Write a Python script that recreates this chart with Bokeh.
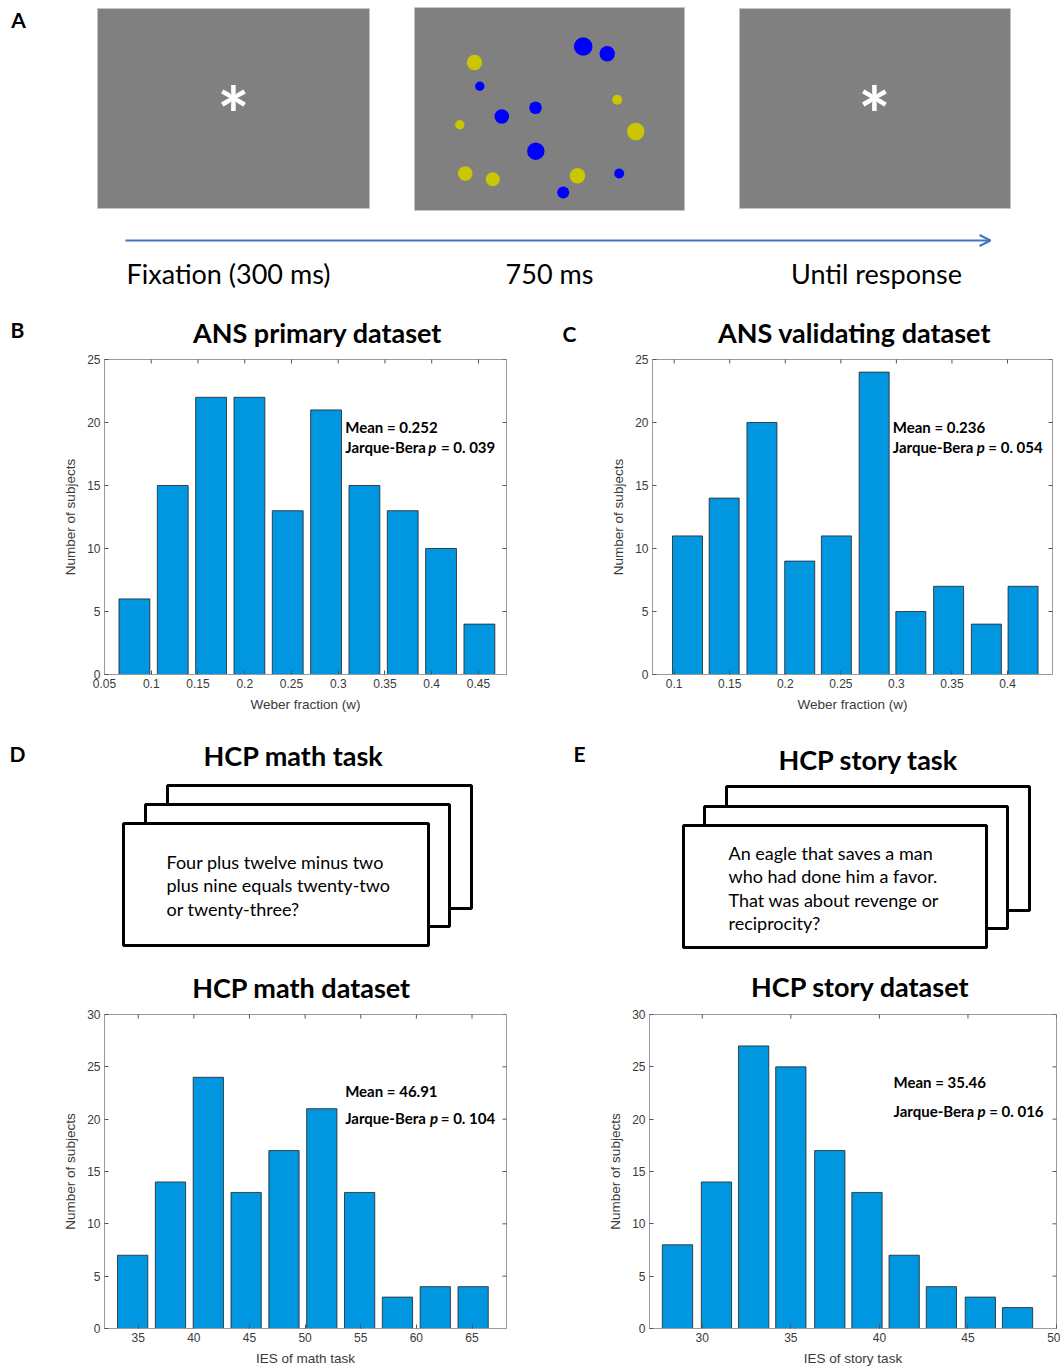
import math
from bokeh.plotting import figure
from bokeh.layouts import column, row
from bokeh.models import Range1d, FixedTicker, LinearAxis, Arrow, OpenHead
from bokeh.core.properties import value
from bokeh.embed import file_html
from bokeh.resources import INLINE

# ------------------------------------------------------------------ data
# Panel B: ANS primary dataset (Weber fraction histogram)
b_centers = [0.082, 0.123, 0.164, 0.205, 0.246, 0.287, 0.328, 0.369, 0.410, 0.451]
b_counts = [6, 15, 22, 22, 13, 21, 15, 13, 10, 4]
b_xticks = [0.05, 0.1, 0.15, 0.2, 0.25, 0.3, 0.35, 0.4, 0.45]
b_xlabels = ["0.05", "0.1", "0.15", "0.2", "0.25", "0.3", "0.35", "0.4", "0.45"]

# Panel C: ANS validating dataset
c_centers = [0.112, 0.145, 0.179, 0.213, 0.246, 0.280, 0.313, 0.347, 0.381, 0.414]
c_counts = [11, 14, 20, 9, 11, 24, 5, 7, 4, 7]
c_xticks = [0.1, 0.15, 0.2, 0.25, 0.3, 0.35, 0.4]
c_xlabels = ["0.1", "0.15", "0.2", "0.25", "0.3", "0.35", "0.4"]

# Panel D: HCP math dataset (IES)
d_centers = [34.5, 37.9, 41.3, 44.7, 48.1, 51.5, 54.9, 58.3, 61.7, 65.1]
d_counts = [7, 14, 24, 13, 17, 21, 13, 3, 4, 4]
d_xticks = [35, 40, 45, 50, 55, 60, 65]
d_xlabels = ["35", "40", "45", "50", "55", "60", "65"]

# Panel E: HCP story dataset (IES)
e_centers = [28.6, 30.8, 32.9, 35.0, 37.2, 39.3, 41.4, 43.5, 45.7, 47.8]
e_counts = [8, 14, 27, 25, 17, 13, 7, 4, 3, 2]
e_xticks = [30, 35, 40, 45, 50]
e_xlabels = ["30", "35", "40", "45", "50"]

yticks_25 = [0, 5, 10, 15, 20, 25]
yticks_30 = [0, 5, 10, 15, 20, 25, 30]

stats_B = ("Mean = 0.252", "= 0. 039")
stats_C = ("Mean = 0.236", "= 0. 054")
stats_D = ("Mean = 46.91", "= 0. 104")
stats_E = ("Mean = 35.46", "= 0. 016")

# Panel A stimulus illustration (dot array)
blue_x = [582.7, 606.7, 479.3, 535.0, 501.3, 535.3, 618.7, 562.7]
blue_y = [46.0, 53.3, 85.7, 107.3, 116.0, 150.7, 173.0, 192.0]
blue_r = [9.3, 7.7, 4.7, 6.3, 7.3, 8.7, 5.0, 6.0]
yellow_x = [474.0, 616.7, 459.3, 635.3, 464.7, 492.3, 577.0]
yellow_y = [62.0, 99.3, 124.3, 131.0, 173.0, 178.7, 175.3]
yellow_r = [7.7, 5.0, 4.7, 8.7, 7.3, 7.0, 7.7]

screen_labels = ["Fixation (300 ms)", "750 ms", "Until response"]
math_lines = ["Four plus twelve minus two", "plus nine equals twenty-two", "or twenty-three?"]
story_lines = ["An eagle that saves a man", "who had done him a favor.",
               "That was about revenge or", "reciprocity?"]

# ------------------------------------------------------------------ style
FONT = "Lato"
AXFONT = "Liberation Sans"
BAR = "#0096E0"
AXC = "#9a9a9a"
TXT = "#3a3a3a"
TITLE_SIZE = "27px"


def canvas(w, h, x0, y0):
    p = figure(width=w, height=h, x_range=Range1d(x0, x0 + w), y_range=Range1d(y0 + h, y0),
               toolbar_location=None, output_backend="svg", title=None,
               x_axis_location=None, y_axis_location=None, min_border=0)
    p.grid.visible = False
    p.outline_line_color = None
    p.background_fill_color = "white"
    p.border_fill_color = "white"
    return p


def ttext(p, x, y, t, size, style="normal", align="center", color="black", baseline="middle"):
    p.text(x=[x], y=[y], text=[t], text_font=value(FONT), text_font_size=size,
           text_font_style=style, text_align=align, text_baseline=baseline, text_color=color)


def style_axis(ax):
    ax.axis_line_color = AXC
    ax.major_tick_line_color = "#555555"
    ax.major_tick_in = 4
    ax.major_tick_out = 0
    ax.minor_tick_in = 0
    ax.minor_tick_out = 0
    ax.major_label_text_font = AXFONT
    ax.major_label_text_color = TXT
    ax.major_label_text_font_size = "12px"
    ax.major_label_standoff = 4
    ax.axis_label_text_font = AXFONT
    ax.axis_label_text_color = TXT
    ax.axis_label_text_font_style = "normal"
    ax.axis_label_text_font_size = "13.5px"
    ax.axis_label_standoff = 6


def hist(w, h, xr, ymax, centers, counts, bw, xticks, xlabels, yticks, xlabel,
         borders, stats, ax_x, mean_y, jb_y, p_off, v_off):
    l, r, t, b = borders
    p = figure(width=w, height=h, x_range=Range1d(*xr), y_range=Range1d(0, ymax),
               toolbar_location=None, output_backend="svg", title=None,
               x_axis_location=None, y_axis_location=None,
               min_border_left=l, min_border_right=r, min_border_top=t, min_border_bottom=b)
    p.grid.visible = False
    p.outline_line_color = AXC
    p.border_fill_color = "white"
    p.vbar(x=centers, top=counts, width=bw, bottom=0, fill_color=BAR,
           line_color="#222222", line_width=0.8)

    bottom = LinearAxis(ticker=FixedTicker(ticks=xticks),
                        major_label_overrides=dict(zip(xticks, xlabels)), axis_label=xlabel)
    left = LinearAxis(ticker=FixedTicker(ticks=yticks), axis_label="Number of subjects")
    style_axis(bottom)
    style_axis(left)
    p.add_layout(bottom, "below")
    p.add_layout(left, "left")
    # inward box ticks on the top and right edges (half of each dash is clipped by the frame)
    p.scatter(x=xticks, y=[ymax] * len(xticks), marker="dash", angle=math.pi / 2, size=8,
              line_color="#555555", line_width=1)
    p.scatter(x=[xr[1]] * len(yticks), y=yticks, marker="dash", size=8,
              line_color="#555555", line_width=1)

    common = dict(text_font=value(FONT), text_font_size="15px", text_baseline="middle",
                  text_color="black")
    p.text(x=[ax_x], y=[mean_y], text=[stats[0]], text_align="left",
           text_font_style="bold", **common)
    p.text(x=[ax_x], y=[jb_y], text=["Jarque-Bera"], text_align="left",
           text_font_style="bold", **common)
    p.text(x=[ax_x], y=[jb_y], text=["p"], x_offset=p_off, text_align="center",
           text_font_style="bold italic", **common)
    p.text(x=[ax_x], y=[jb_y], text=[stats[1]], x_offset=v_off, text_align="right",
           text_font_style="bold", **common)
    return p


# ------------------------------------------------------------------ row 1: panel A + titles B/C
figA = canvas(1060, 350, 0, 0)
figA.quad(left=[97, 414, 739], right=[369, 684, 1010], top=[8, 7, 8], bottom=[208, 210, 208],
          fill_color="#808080", line_color="#c4c4c4", line_width=1)
figA.circle(x=yellow_x, y=yellow_y, radius=yellow_r, fill_color="#CCC600", line_color=None)
figA.circle(x=blue_x, y=blue_y, radius=blue_r, fill_color="#0000FF", line_color=None)
for ax_ in (233, 874):
    ttext(figA, ax_, 113, "*", "76px", style="bold", color="white", baseline="alphabetic")
figA.add_layout(Arrow(end=OpenHead(size=11, line_color="#4472C4", line_width=2),
                      x_start=125, y_start=240, x_end=990, y_end=240,
                      line_color="#4472C4", line_width=2))
for cx, lab in zip([228, 549, 876], screen_labels):
    ttext(figA, cx, 273, lab, "27px")
ttext(figA, 18, 19, "A", "21px", style="bold")
ttext(figA, 17, 329, "B", "21px", style="bold")
ttext(figA, 569, 333, "C", "21px", style="bold")
ttext(figA, 317, 332, "ANS primary dataset", TITLE_SIZE, style="bold")
ttext(figA, 854, 332, "ANS validating dataset", TITLE_SIZE, style="bold")

# ------------------------------------------------------------------ row 2: histograms B, C
figB = hist(540, 370, (0.05, 0.48), 25, b_centers, b_counts, 0.033, b_xticks, b_xlabels,
            yticks_25, "Weber fraction (w)", (104, 34, 9, 46), stats_B,
            0.3075, 19.63, 18.05, 87, 150)
figC = hist(520, 370, (0.0805, 0.4405), 25, c_centers, c_counts, 0.027, c_xticks, c_xlabels,
            yticks_25, "Weber fraction (w)", (112, 8, 9, 46), stats_C,
            0.2967, 19.63, 18.05, 88, 150)

# ------------------------------------------------------------------ row 3: task cards
figT = canvas(1060, 286, 0, 720)
ttext(figT, 17, 753, "D", "21px", style="bold")
ttext(figT, 579, 753, "E", "21px", style="bold")
ttext(figT, 293, 755, "HCP math task", TITLE_SIZE, style="bold")
ttext(figT, 868, 759, "HCP story task", TITLE_SIZE, style="bold")
# stacked cards (back to front)
figT.quad(left=[167, 145, 123], right=[471, 449, 428], top=[785, 804, 823], bottom=[908, 926, 945],
          fill_color="white", line_color="black", line_width=3)
figT.quad(left=[726, 704, 683], right=[1029, 1007, 986], top=[786, 806, 825], bottom=[910, 928, 947],
          fill_color="white", line_color="black", line_width=3)
for i, ln in enumerate(math_lines):
    ttext(figT, 166, 861 + i * 23.7, ln, "18px", align="left")
for i, ln in enumerate(story_lines):
    ttext(figT, 728, 852 + i * 23.5, ln, "18px", align="left")
ttext(figT, 301, 987, "HCP math dataset", TITLE_SIZE, style="bold")
ttext(figT, 860, 986, "HCP story dataset", TITLE_SIZE, style="bold")

# ------------------------------------------------------------------ row 4: histograms D, E
figD = hist(540, 362, (31.97, 68.1), 30, d_centers, d_counts, 2.72, d_xticks, d_xlabels,
            yticks_30, "IES of math task", (104, 34, 8, 37), stats_D,
            53.6, 22.72, 20.13, 89, 150)
figE = hist(520, 362, (27.02, 50), 30, e_centers, e_counts, 1.71, e_xticks, e_xlabels,
            yticks_30, "IES of story task", (109, 4, 8, 33), stats_E,
            40.8, 23.55, 20.81, 88, 150)

layout = column(figA, row(figB, figC), figT, row(figD, figE))
open("out.html", "w").write(file_html(layout, INLINE))
